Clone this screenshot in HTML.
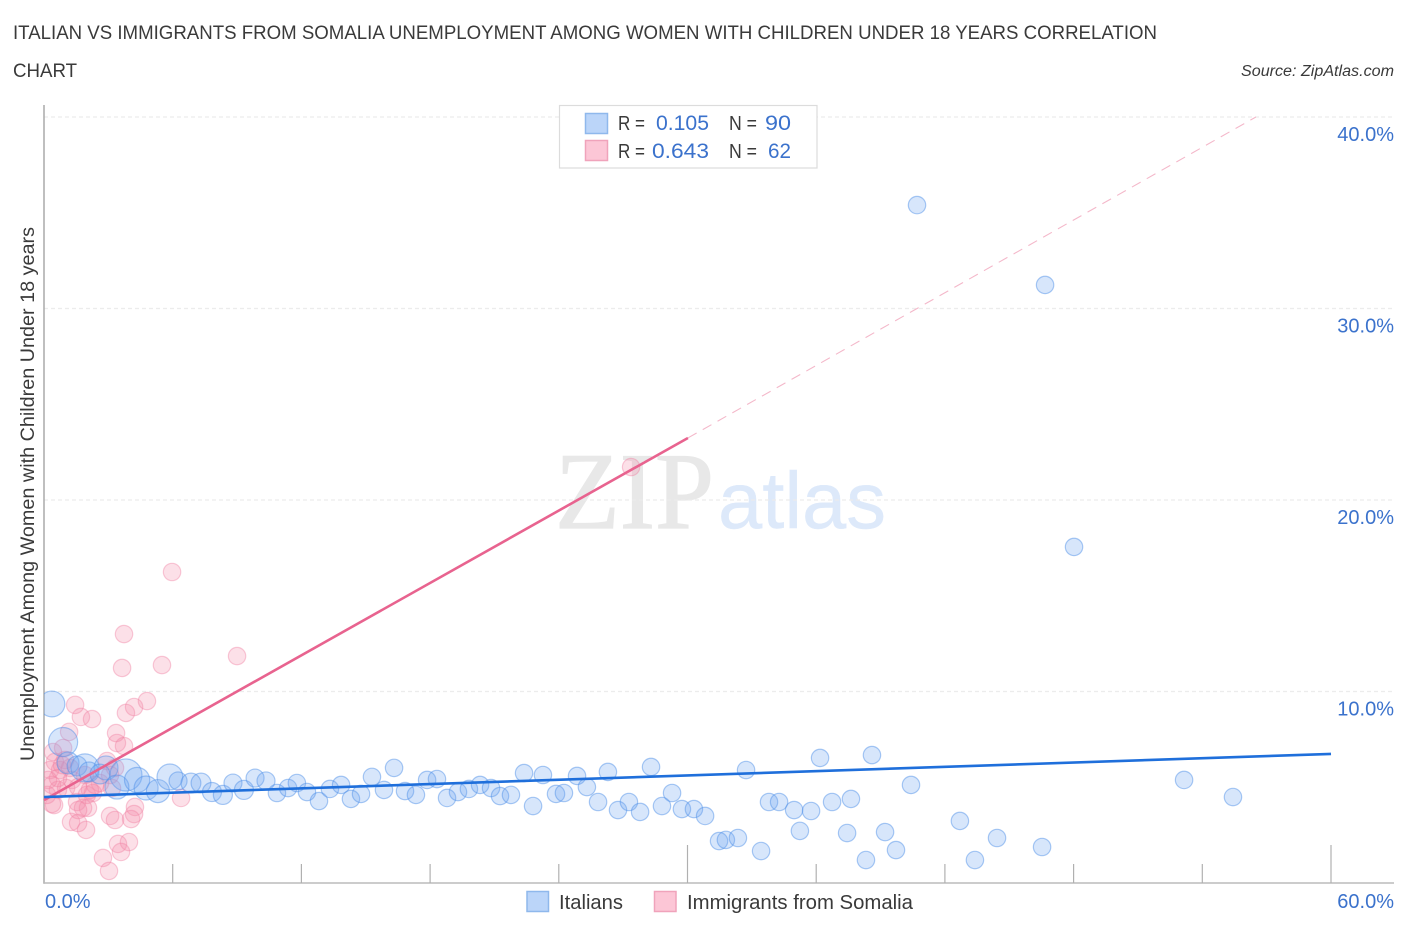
<!DOCTYPE html>
<html lang="en">
<head>
<meta charset="utf-8">
<title>Italian vs Immigrants from Somalia Correlation Chart</title>
<style>
html,body{margin:0;padding:0;background:#fff;}
svg{display:block;font-family:"Liberation Sans",sans-serif;}
</style>
</head>
<body>
<svg id="chart" width="1406" height="930" viewBox="0 0 1406 930" xmlns="http://www.w3.org/2000/svg">
  <defs>
    <clipPath id="plot-clip"><rect x="44" y="105" width="1350" height="778"/></clipPath>
  </defs>

  <text x="13" y="39" font-size="19.5" fill="#3a3a3a" textLength="1144" lengthAdjust="spacingAndGlyphs">ITALIAN VS IMMIGRANTS FROM SOMALIA UNEMPLOYMENT AMONG WOMEN WITH CHILDREN UNDER 18 YEARS CORRELATION</text>
  <text x="13" y="77" font-size="19.5" fill="#3a3a3a" textLength="64" lengthAdjust="spacingAndGlyphs">CHART</text>
  <text x="1241" y="76" font-size="15.5" font-style="italic" fill="#3a3a3a" textLength="153" lengthAdjust="spacingAndGlyphs">Source: ZipAtlas.com</text>

  <g>
    <text x="555" y="528" font-family="'Liberation Serif',serif" font-size="109" fill="#e8e8e8" stroke="#e8e8e8" stroke-width="1.2" textLength="159" lengthAdjust="spacingAndGlyphs">ZIP</text>
    <text x="718" y="528" font-size="80" fill="#dde9fa" stroke="#dde9fa" stroke-width="0.4" textLength="168" lengthAdjust="spacingAndGlyphs">atlas</text>
  </g>

  <g id="grid"></g>
  <g id="axes"></g>
  <g id="points" clip-path="url(#plot-clip)"></g>
  <g id="trends"></g>
  <g id="labels"></g>

  <text transform="translate(34,761) rotate(-90)" font-size="19" fill="#3a3a3a" textLength="534" lengthAdjust="spacingAndGlyphs">Unemployment Among Women with Children Under 18 years</text>

  <g>
    <rect x="559.5" y="105.5" width="257.5" height="62.5" fill="#fff" stroke="#dcdcdc" stroke-width="1.2"/>
    <rect x="585.5" y="113.5" width="22" height="20" fill="#bbd5f9" stroke="#8fb8ec" stroke-width="1.5"/>
    <rect x="585.5" y="140.5" width="22" height="20" fill="#fcc6d6" stroke="#f0a3bb" stroke-width="1.5"/>
    <text x="618" y="130" font-size="20" fill="#3a3a3a" textLength="27" lengthAdjust="spacingAndGlyphs">R =</text>
    <text x="656" y="130" font-size="21" fill="#3b72cc" textLength="53" lengthAdjust="spacingAndGlyphs">0.105</text>
    <text x="729" y="130" font-size="20" fill="#3a3a3a" textLength="28" lengthAdjust="spacingAndGlyphs">N =</text>
    <text x="765" y="130" font-size="21" fill="#3b72cc" textLength="26" lengthAdjust="spacingAndGlyphs">90</text>
    <text x="618" y="158" font-size="20" fill="#3a3a3a" textLength="27" lengthAdjust="spacingAndGlyphs">R =</text>
    <text x="652" y="158" font-size="21" fill="#3b72cc" textLength="57" lengthAdjust="spacingAndGlyphs">0.643</text>
    <text x="729" y="158" font-size="20" fill="#3a3a3a" textLength="28" lengthAdjust="spacingAndGlyphs">N =</text>
    <text x="768" y="158" font-size="21" fill="#3b72cc" textLength="23" lengthAdjust="spacingAndGlyphs">62</text>
  </g>

  <g>
    <rect x="527" y="891.5" width="21.5" height="20" fill="#bbd5f9" stroke="#8fb8ec" stroke-width="1.5"/>
    <text x="559" y="909" font-size="20" fill="#3a3a3a" textLength="64" lengthAdjust="spacingAndGlyphs">Italians</text>
    <rect x="654.5" y="891.5" width="21.5" height="20" fill="#fcc6d6" stroke="#f0a3bb" stroke-width="1.5"/>
    <text x="687" y="909" font-size="20" fill="#3a3a3a" textLength="226" lengthAdjust="spacingAndGlyphs">Immigrants from Somalia</text>
  </g>
</svg>

<script>
const italianX = [0.37,0.89,1.12,1.54,1.91,2.10,2.89,2.61,3.82,3.40,4.34,4.76,5.31,5.87,6.25,6.85,7.32,7.83,8.34,8.81,9.32,9.84,10.35,10.86,11.38,11.79,12.26,12.82,13.33,13.85,14.31,14.78,15.29,15.85,16.32,16.83,17.34,17.86,18.32,18.79,19.30,19.81,20.33,20.84,21.26,21.77,22.38,22.80,23.26,23.87,24.24,24.85,25.31,25.83,26.29,26.76,27.27,27.79,28.30,28.81,29.28,29.74,30.30,30.82,31.47,31.79,32.35,32.73,33.43,33.80,34.27,34.97,35.24,35.76,36.18,36.74,37.44,37.62,38.32,38.60,39.21,39.72,40.42,42.70,43.40,44.43,46.53,53.15,55.43,48.02,46.67,40.70];
const italianY = [9.35,7.36,6.27,6.11,6.01,5.80,6.01,5.69,5.64,5.01,5.38,4.96,4.80,5.54,5.33,5.22,5.22,4.75,4.60,5.22,4.86,5.48,5.33,4.70,4.96,5.22,4.75,4.28,4.91,5.12,4.39,4.65,5.54,4.86,6.01,4.80,4.60,5.38,5.43,4.44,4.75,4.91,5.12,4.96,4.54,4.60,5.74,4.02,5.64,4.65,4.70,5.59,5.01,4.23,5.80,3.81,4.23,3.71,6.06,4.02,4.70,3.86,3.86,3.50,2.19,2.25,2.35,5.90,1.67,4.23,4.23,3.81,2.72,3.76,6.53,4.23,2.61,4.39,1.20,6.68,2.66,1.72,5.12,3.24,1.20,2.35,1.88,5.38,4.49,17.55,31.23,35.40];
const italianWeight = [2.2,2.8,1.6,1.3,2.6,1.3,1.9,1.3,3.4,1.9,2.1,1.9,1.75,2.2,1.07,1.3,1.3,1.2,1.2,1.07,1.2,1.07,1.07];
const somaliaX = [1.45,1.72,2.24,1.17,0.89,0.42,3.82,4.20,4.80,3.36,3.40,3.73,2.94,3.31,6.39,3.17,2.28,2.00,2.61,1.54,2.05,1.82,1.59,0.47,0.37,1.26,1.59,1.96,3.08,3.31,4.24,4.20,4.06,3.45,3.96,3.59,2.75,3.03,27.37,5.97,3.73,3.64,5.50,9.00,0.28,0.51,0.75,0.37,0.65,1.03,0.98,1.21,1.31,0.65,0.14,0.19,0.84,1.59,1.91,2.14,2.38,3.08];
const somaliaY = [9.30,8.67,8.56,7.89,7.05,6.84,8.88,9.19,9.50,7.83,7.31,7.15,6.37,6.01,4.44,4.96,4.70,4.60,5.22,4.23,3.92,3.92,3.81,4.07,4.13,3.19,3.13,2.77,3.50,3.29,3.97,3.60,3.34,2.04,2.14,1.62,1.31,0.63,21.72,16.24,13.00,11.23,11.38,11.85,5.90,6.32,5.90,5.12,4.86,4.96,6.42,6.01,5.38,5.48,4.60,5.38,6.16,5.01,5.64,4.86,5.12,5.64];
const italianTrendX = [0, 60];
const italianTrendY = [4.49, 6.74];
const somaliaTrendX = [0, 30.02];
const somaliaTrendY = [4.33, 23.24];
const somaliaExtensionX = [30.02, 56.5];
const somaliaExtensionY = [23.24, 40];
const xTickValues = [6,12,18,24,30,36,42,48,54,60];
const xMajorTicks = [30,60];
const yTickValues = [10,20,30,40];
const yTickLabels = ['10.0%','20.0%','30.0%','40.0%'];
const xEndValues = [0,60];
const xEndLabels = ['0.0%','60.0%'];

const NS = 'http://www.w3.org/2000/svg';
const xScale = v => 44 + v * 21.45;
const yScale = v => 883 - v * 19.15;
const rScale = w => 8.7 * Math.sqrt(w);

function make(tag, attrs, parent) {
  const el = document.createElementNS(NS, tag);
  for (const k in attrs) el.setAttribute(k, attrs[k]);
  parent.appendChild(el);
  return el;
}

const grid = document.getElementById('grid');
const axes = document.getElementById('axes');
const pts = document.getElementById('points');
const trends = document.getElementById('trends');
const labels = document.getElementById('labels');

yTickValues.forEach(v => {
  const g = make('line', {x1:44, x2:1394, y1:yScale(v), y2:yScale(v), stroke:'#ececec', 'stroke-width':1.2, 'stroke-dasharray':'4 3'}, grid);
  
  
});

const yAxis = make('line', {x1:44, x2:44, y1:105, y2:883.7, stroke:'#aaa', 'stroke-width':1.5}, axes);


const xAxis = make('line', {x1:44, x2:1394, y1:883, y2:883, stroke:'#bbb', 'stroke-width':1.5}, axes);



xTickValues.forEach(v => {
  const top = xMajorTicks.includes(v) ? 845 : 864;
  const t = make('line', {x1:xScale(v), x2:xScale(v), y1:top, y2:883, stroke:'#b0b0b0', 'stroke-width':1.2}, axes);
  
  
});

somaliaX.forEach((x, i) => {
  const c = make('circle', {cx:xScale(x), cy:yScale(somaliaY[i]), r:rScale(1), fill:'rgba(245,140,170,0.27)', stroke:'rgba(240,130,165,0.42)', 'stroke-width':1.2}, pts);
  
  
});

italianX.forEach((x, i) => {
  const w = i < italianWeight.length ? italianWeight[i] : 1;
  const c = make('circle', {cx:xScale(x), cy:yScale(italianY[i]), r:rScale(w), fill:'rgba(110,165,240,0.28)', stroke:'rgba(80,145,232,0.48)', 'stroke-width':1.2}, pts);
  
  
});

const ext = make('line', {x1:xScale(somaliaExtensionX[0]), y1:yScale(somaliaExtensionY[0]), x2:xScale(somaliaExtensionX[1]), y2:yScale(somaliaExtensionY[1]), stroke:'#f4b8ca', 'stroke-width':1.1, 'stroke-dasharray':'10 7'}, trends);


const st = make('line', {x1:xScale(somaliaTrendX[0]), y1:yScale(somaliaTrendY[0]), x2:xScale(somaliaTrendX[1]), y2:yScale(somaliaTrendY[1]), stroke:'#e8638f', 'stroke-width':2.6}, trends);


const it = make('line', {x1:xScale(italianTrendX[0]), y1:yScale(italianTrendY[0]), x2:xScale(italianTrendX[1]), y2:yScale(italianTrendY[1]), stroke:'#1f6fdb', 'stroke-width':2.6}, trends);



yTickValues.forEach((v, i) => {
  const t = make('text', {x:1394, y:yScale(v) + 24, 'text-anchor':'end', 'font-size':20, fill:'#3b72cc'}, labels);
  t.textContent = yTickLabels[i];
  
  
});

xEndValues.forEach((v, i) => {
  const t = make('text', {x: i === 0 ? 45 : 1394, y:908, 'text-anchor': i === 0 ? 'start' : 'end', 'font-size':20, fill:'#3b72cc'}, labels);
  t.textContent = xEndLabels[i];
  
  
});
</script>
</body>
</html>
